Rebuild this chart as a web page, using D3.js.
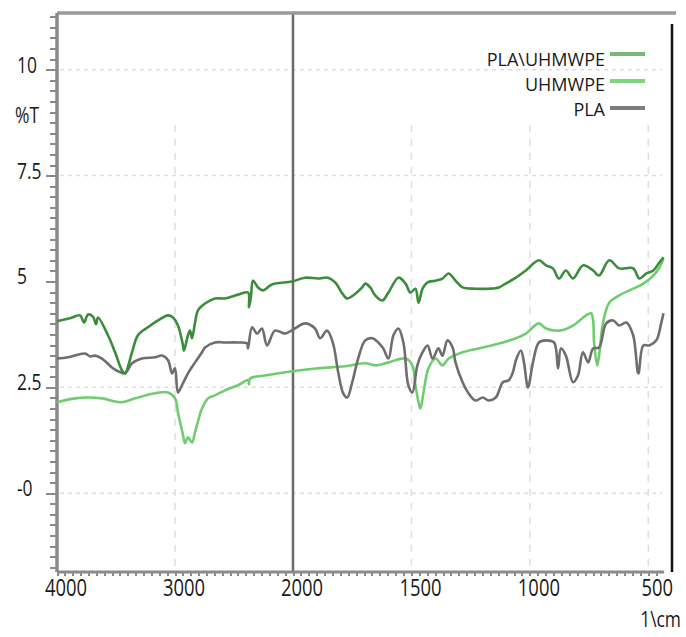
<!DOCTYPE html>
<html lang="en">
<head>
<meta charset="UTF-8">
<title>FTIR</title>
<style>
  body { margin: 0; background: #fff; }
  text { font-family: "Open Sans", "Noto Sans", sans-serif; fill: #1a1a1a; }
</style>
</head>
<body>
<script src="https://cdn.jsdelivr.net/npm/d3@7/dist/d3.min.js"></script>
<script>
// wavenumber (1/cm) and %T readings for each spectrum
var blendWn = [4000, 3890, 3805, 3771, 3737, 3695, 3669, 3653, 3568, 3508, 3449, 3424, 3364, 3314, 3229, 3144, 3059, 3017, 2975, 2932, 2924, 2890, 2873, 2856, 2830, 2805, 2746, 2661, 2576, 2466, 2381, 2373, 2356, 2339, 2297, 2254, 2178, 2008, 1949, 1894, 1852, 1822, 1792, 1771, 1746, 1708, 1695, 1674, 1653, 1623, 1597, 1555, 1525, 1504, 1483, 1470, 1453, 1432, 1398, 1369, 1343, 1314, 1284, 1229, 1174, 1131, 1102, 1059, 1017, 962, 932, 903, 877, 848, 818, 776, 733, 708, 665, 623, 564, 538, 508, 479, 453, 436];
var blendT = [4.06, 4.13, 4.20, 4.03, 4.22, 4.17, 3.99, 4.15, 3.73, 3.33, 2.90, 2.83, 3.33, 3.73, 3.92, 4.08, 4.20, 4.15, 3.96, 3.49, 3.37, 3.73, 3.84, 3.66, 4.03, 4.32, 4.48, 4.60, 4.60, 4.69, 4.74, 4.39, 4.65, 5.02, 4.86, 4.79, 4.93, 5.00, 5.09, 5.07, 5.09, 4.98, 4.72, 4.60, 4.67, 4.86, 4.95, 4.86, 4.67, 4.55, 4.74, 5.09, 4.95, 4.74, 4.83, 4.50, 4.83, 4.98, 5.02, 5.07, 5.19, 5.02, 4.86, 4.83, 4.83, 4.86, 4.95, 5.09, 5.26, 5.50, 5.38, 5.31, 5.07, 5.26, 5.07, 5.38, 5.26, 5.14, 5.50, 5.31, 5.31, 5.07, 5.19, 5.26, 5.45, 5.57];

var uhmwpeWn = [4000, 3847, 3737, 3619, 3449, 3339, 3169, 3059, 3000, 2975, 2932, 2915, 2890, 2856, 2830, 2771, 2720, 2661, 2576, 2466, 2381, 2373, 2364, 2237, 2008, 1894, 1780, 1695, 1653, 1597, 1525, 1496, 1483, 1470, 1462, 1449, 1428, 1398, 1369, 1343, 1284, 1199, 1114, 1059, 1017, 962, 932, 877, 818, 763, 742, 733, 729, 716, 708, 691, 665, 623, 564, 521, 479, 453, 436];
var uhmwpeT = [2.15, 2.24, 2.26, 2.24, 2.15, 2.24, 2.36, 2.38, 2.24, 1.91, 1.37, 1.18, 1.32, 1.20, 1.44, 2.00, 2.24, 2.31, 2.43, 2.55, 2.67, 2.57, 2.71, 2.78, 2.88, 2.95, 3.00, 3.07, 3.02, 3.09, 3.18, 3.02, 2.55, 2.15, 2.00, 2.38, 2.95, 3.18, 3.02, 3.18, 3.33, 3.44, 3.56, 3.66, 3.77, 4.01, 3.89, 3.84, 3.96, 4.20, 4.25, 4.08, 3.56, 3.02, 3.25, 4.03, 4.50, 4.67, 4.83, 4.95, 5.14, 5.33, 5.54];

var plaWn = [4000, 3907, 3763, 3720, 3678, 3619, 3534, 3483, 3424, 3364, 3280, 3169, 3110, 3059, 3025, 3000, 2975, 2941, 2890, 2830, 2771, 2746, 2661, 2576, 2466, 2390, 2381, 2347, 2305, 2263, 2220, 2153, 2068, 1992, 1949, 1907, 1886, 1856, 1831, 1809, 1788, 1771, 1750, 1725, 1695, 1665, 1640, 1619, 1597, 1576, 1555, 1534, 1513, 1496, 1475, 1453, 1432, 1411, 1386, 1369, 1348, 1326, 1314, 1284, 1259, 1229, 1199, 1174, 1144, 1114, 1089, 1072, 1059, 1038, 1025, 1008, 987, 962, 932, 898, 881, 869, 848, 818, 797, 776, 754, 733, 708, 678, 648, 623, 593, 564, 542, 521, 496, 466, 445, 436];
var plaT = [3.18, 3.21, 3.30, 3.23, 3.25, 3.18, 2.97, 2.88, 2.83, 3.07, 3.18, 3.21, 3.25, 3.14, 2.83, 2.95, 2.38, 2.55, 2.83, 3.09, 3.33, 3.44, 3.56, 3.56, 3.56, 3.54, 3.42, 3.92, 3.77, 3.89, 3.49, 3.84, 3.77, 3.89, 4.01, 3.89, 3.66, 3.84, 3.54, 2.85, 2.36, 2.26, 2.62, 3.18, 3.61, 3.66, 3.56, 3.42, 3.18, 3.73, 3.89, 3.56, 2.55, 2.38, 3.02, 3.33, 3.49, 3.18, 3.42, 3.25, 3.61, 3.44, 3.09, 2.62, 2.36, 2.19, 2.26, 2.19, 2.26, 2.62, 2.67, 2.85, 3.14, 3.37, 3.09, 2.50, 3.09, 3.56, 3.61, 3.56, 2.95, 3.42, 3.25, 2.62, 2.78, 3.33, 3.09, 3.42, 3.44, 4.01, 4.08, 3.96, 4.03, 3.73, 2.83, 3.49, 3.49, 3.61, 4.03, 4.25];

var seriesNames = ["PLA\\UHMWPE", "UHMWPE", "PLA"];
var lineColors = ["#3b8c3b", "#6fcc6f", "#6e6e6e"];
var legendColors = ["#7ab87a", "#7fd57f", "#7d7d7d"];

var xTicks = [4000, 3000, 2000, 1500, 1000, 500];
var yTicks = [10, 7.5, 5, 2.5, 0];
var yTickLabels = ["10", "7.5", "5", "2.5", "-0"];
var yGrid = [10, 7.5, 2.5, 0];
var xGrid = [3000, 1500, 1000, 500];

var W = 686, H = 637;
var plotLeft = 57, plotRight = 672, plotTop = 13, plotBottom = 572;
var sx = 0.83; // the text in the picture is narrow

var svg = d3.select("body").append("svg")
    .attr("width", W)
    .attr("height", H);

// spectrum axis is split: 4000-2000 at half the scale of 2000-400
var x = d3.scaleLinear().domain([4000, 2000, 400]).range([plotLeft, 293, plotRight]);
var y = d3.scaleLinear().domain([-1.86, 11.34]).range([plotBottom, plotTop]);

// faint dashed grid
svg.append("g").selectAll("line").data(yGrid).enter().append("line")
    .attr("x1", plotLeft + 3).attr("x2", 662)
    .attr("y1", function (d) { return y(d); })
    .attr("y2", function (d) { return y(d); })
    .style("stroke", "#dedede").style("stroke-width", 1.5)
    .style("stroke-dasharray", "4,4");

svg.append("g").selectAll("line").data(xGrid).enter().append("line")
    .attr("x1", function (d) { return x(d); })
    .attr("x2", function (d) { return x(d); })
    .attr("y1", 125).attr("y2", plotBottom - 3)
    .style("stroke", "#dedede").style("stroke-width", 1.5)
    .style("stroke-dasharray", "7,7");

// solid marker line at 2000
svg.append("line")
    .attr("x1", x(2000)).attr("x2", x(2000))
    .attr("y1", plotTop).attr("y2", plotBottom)
    .style("stroke", "#6a6a6a").style("stroke-width", 2.5);

// frame: top and right
svg.append("line")
    .attr("x1", plotLeft).attr("x2", 676).attr("y1", plotTop).attr("y2", plotTop)
    .style("stroke", "#9a9a9a").style("stroke-width", 3.5);
svg.append("line")
    .attr("x1", plotRight).attr("x2", plotRight).attr("y1", 24).attr("y2", plotBottom)
    .style("stroke", "#111").style("stroke-width", 2.5);

// left axis with minor ticks
var yMinor = d3.range(-1.75, 11.3, 0.25);
svg.append("g")
    .attr("class", "y axis")
    .attr("transform", "translate(" + plotLeft + ",0)")
    .call(d3.axisLeft(y).tickValues(yMinor).tickSize(7).tickFormat(""));
svg.append("g")
    .attr("transform", "translate(" + plotLeft + ",0)")
    .call(d3.axisLeft(y).tickValues(yTicks).tickSize(11).tickFormat(""));

// bottom axis with minor ticks
var xMinor = d3.range(4000, 2000, -1000 / 15).concat(d3.range(2000, 440, -500 / 15));
svg.append("g")
    .attr("class", "x axis")
    .attr("transform", "translate(0," + plotBottom + ")")
    .call(d3.axisBottom(x).tickValues(xMinor).tickSize(4).tickFormat(""));

svg.selectAll(".domain").remove();
svg.selectAll(".tick line")
    .style("stroke", "#8a8a8a")
    .style("stroke-width", 2)
    .style("shape-rendering", "crispEdges");

svg.append("line")
    .attr("x1", plotLeft).attr("x2", plotLeft).attr("y1", plotTop).attr("y2", plotBottom)
    .style("stroke", "#8a8a8a").style("stroke-width", 3.5);
svg.append("line")
    .attr("x1", plotLeft).attr("x2", 664).attr("y1", plotBottom).attr("y2", plotBottom)
    .style("stroke", "#8a8a8a").style("stroke-width", 3);

// tick labels
svg.append("g").selectAll("text").data(xTicks).enter().append("text")
    .attr("transform", function (d) {
        return "translate(" + (x(d) + 9) + "," + 596 + ") scale(0.8,1)";
    })
    .attr("text-anchor", "middle")
    .style("font-size", "23px")
    .text(function (d) { return d; });

svg.append("g").selectAll("text").data(yTicks).enter().append("text")
    .attr("transform", function (d) {
        return "translate(17," + (y(d) + 3) + ") scale(" + sx + ",1)";
    })
    .style("font-size", "21px")
    .text(function (d, i) { return yTickLabels[i]; });

svg.append("text")
    .attr("transform", "translate(15,123) scale(" + sx + ",1)")
    .style("font-size", "21px")
    .text("%T");

svg.append("text")
    .attr("transform", "translate(681,627) scale(" + sx + ",1)")
    .attr("text-anchor", "end")
    .style("font-size", "21px")
    .text("1\\cm");

// spectra
var line = d3.line()
    .x(function (d) { return x(d[0]); })
    .y(function (d) { return y(d[1]); })
    .curve(d3.curveCatmullRom.alpha(0.5));

var series = [
    d3.zip(uhmwpeWn, uhmwpeT),
    d3.zip(plaWn, plaT),
    d3.zip(blendWn, blendT)
];
var seriesColor = [lineColors[1], lineColors[2], lineColors[0]];

series.forEach(function (pts, i) {
    svg.append("path")
        .attr("d", line(pts))
        .style("fill", "none")
        .style("stroke", seriesColor[i])
        .style("stroke-width", 2.6)
        .style("stroke-linejoin", "round");
});

// legend
var legendY = [66, 91, 116];
var lg = svg.append("g");
seriesNames.forEach(function (name, i) {
    lg.append("text")
        .attr("x", 605)
        .attr("y", legendY[i])
        .attr("text-anchor", "end")
        .style("font-size", "18px")
        .text(name);
    lg.append("line")
        .attr("x1", 610).attr("x2", 645)
        .attr("y1", legendY[i] - 12 + i * 2).attr("y2", legendY[i] - 12 + i * 2)
        .style("stroke", legendColors[i])
        .style("stroke-width", 4);
});
</script>
</body>
</html>
